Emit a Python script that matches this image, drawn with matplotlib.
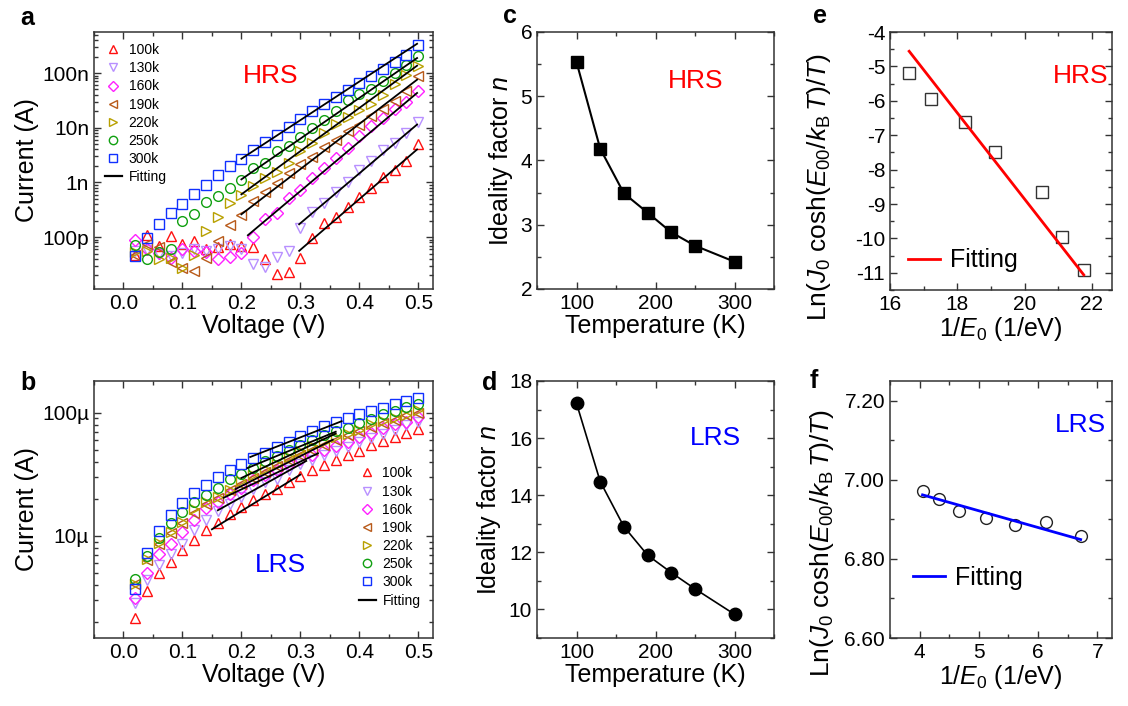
import numpy as np
import matplotlib
matplotlib.use("Agg")
import matplotlib.pyplot as plt
from matplotlib.ticker import FixedLocator, FuncFormatter, MultipleLocator, LogLocator, NullFormatter
from matplotlib.lines import Line2D

plt.rcParams['font.family'] = ['Liberation Sans', 'DejaVu Sans']
plt.rcParams['mathtext.fontset'] = 'custom'
plt.rcParams['mathtext.rm'] = 'Liberation Sans'
plt.rcParams['mathtext.it'] = 'Liberation Sans:italic'
plt.rcParams['axes.unicode_minus'] = False

# ---- data ----
temps = ['100k', '130k', '160k', '190k', '220k', '250k', '300k']
colors = ['#FF1010', '#B890FF', '#FF20FF', '#B85A1A', '#B8A000', '#10A010', '#1030FF']
markers = ['^', 'v', 'D', '<', '>', 'o', 's']

voltage = [0.02, 0.04, 0.06, 0.08, 0.10, 0.12, 0.14, 0.16, 0.18, 0.20, 0.22, 0.24, 0.26,
           0.28, 0.30, 0.32, 0.34, 0.36, 0.38, 0.40, 0.42, 0.44, 0.46, 0.48, 0.50]

# HRS currents, log10(I / A)
hrs_100 = [-10.325, -9.967, -10.161, -9.979, -10.131, -10.070, -10.210, -10.191, -10.131, -10.161,
           -10.191, -10.404, -10.678, -10.647, -10.374, -10.009, -9.736, -9.626, -9.444, -9.267,
           -9.097, -8.897, -8.775, -8.611, -8.307]
hrs_130 = [-10.252, -10.234, -10.313, -10.343, -10.283, -10.222, -10.252, -10.210, -10.161, -10.222,
           -10.495, -10.556, -10.362, -10.252, -9.827, -9.541, -9.371, -9.170, -8.994, -8.781,
           -8.611, -8.416, -8.277, -8.094, -7.900]
hrs_160 = [-10.052, -10.210, -10.295, -10.392, -10.210, -10.252, -10.271, -10.404, -10.362, -10.283,
           -9.991, -9.675, -9.553, -9.280, -9.146, -8.927, -8.745, -8.550, -8.368, -8.155,
           -7.973, -7.821, -7.657, -7.535, -7.334]
hrs_190 = [-10.331, -10.131, -10.191, -10.465, -10.574, -10.629, -10.374, -10.076, -9.778, -9.596,
           -9.347, -9.170, -9.018, -8.824, -8.672, -8.538, -8.356, -8.216, -8.064, -7.942,
           -7.778, -7.650, -7.517, -7.322, -7.061]
hrs_220 = [-10.271, -10.252, -10.404, -10.392, -10.574, -10.331, -9.888, -9.632, -9.371, -9.231,
           -9.067, -8.927, -8.805, -8.641, -8.429, -8.277, -8.094, -7.924, -7.802, -7.669,
           -7.559, -7.407, -7.195, -7.030, -6.866]
hrs_250 = [-10.149, -10.404, -10.271, -10.210, -9.705, -9.571, -9.353, -9.249, -9.097, -8.957,
           -8.733, -8.647, -8.429, -8.337, -8.167, -8.003, -7.851, -7.687, -7.498, -7.383,
           -7.286, -7.140, -7.000, -6.860, -6.696]
hrs_300 = [-10.343, -10.009, -9.754, -9.565, -9.389, -9.219, -9.043, -8.872, -8.708, -8.568,
           -8.404, -8.258, -8.125, -7.979, -7.833, -7.699, -7.571, -7.432, -7.310, -7.188,
           -7.049, -6.921, -6.793, -6.678, -6.483]

# HRS fitting lines: voltage range and log10(I) at both ends
hrs_fit_v0 = [0.298, 0.298, 0.211, 0.200, 0.200, 0.200, 0.200]
hrs_fit_v1 = [0.498, 0.498, 0.498, 0.498, 0.498, 0.498, 0.498]
hrs_fit_i0 = [-10.252, -9.766, -9.967, -9.584, -9.219, -8.945, -8.568]
hrs_fit_i1 = [-8.398, -7.942, -7.365, -7.122, -6.866, -6.726, -6.465]

# LRS currents, log10(I / A)
lrs_100 = [-5.662, -5.446, -5.300, -5.211, -5.116, -5.030, -4.954, -4.895, -4.824, -4.765,
           -4.711, -4.657, -4.616, -4.562, -4.514, -4.462, -4.427, -4.386, -4.346, -4.311,
           -4.265, -4.230, -4.197, -4.162, -4.130]
lrs_130 = [-5.543, -5.354, -5.238, -5.149, -5.062, -4.954, -4.873, -4.800, -4.743, -4.684,
           -4.616, -4.562, -4.535, -4.468, -4.414, -4.381, -4.341, -4.314, -4.278, -4.238,
           -4.203, -4.170, -4.138, -4.103, -4.076]
lrs_160 = [-5.500, -5.297, -5.149, -5.062, -4.968, -4.873, -4.773, -4.724, -4.662, -4.608,
           -4.549, -4.503, -4.462, -4.419, -4.373, -4.341, -4.300, -4.273, -4.238, -4.197,
           -4.162, -4.124, -4.095, -4.076, -4.035]
lrs_190 = [-5.392, -5.197, -5.062, -4.976, -4.895, -4.814, -4.743, -4.689, -4.630, -4.581,
           -4.530, -4.481, -4.435, -4.386, -4.341, -4.305, -4.265, -4.224, -4.184, -4.151,
           -4.116, -4.084, -4.057, -4.022, -4.003]
lrs_220 = [-5.392, -5.184, -5.057, -4.968, -4.886, -4.778, -4.724, -4.684, -4.624, -4.557,
           -4.508, -4.454, -4.414, -4.359, -4.314, -4.273, -4.238, -4.197, -4.170, -4.138,
           -4.089, -4.068, -4.041, -4.016, -3.981]
lrs_250 = [-5.346, -5.165, -5.014, -4.895, -4.805, -4.724, -4.670, -4.608, -4.541, -4.495,
           -4.446, -4.395, -4.351, -4.305, -4.259, -4.219, -4.184, -4.151, -4.122, -4.081,
           -4.049, -4.014, -3.986, -3.954, -3.927]
lrs_300 = [-5.427, -5.135, -4.959, -4.832, -4.732, -4.651, -4.589, -4.522, -4.462, -4.414,
           -4.368, -4.327, -4.278, -4.238, -4.192, -4.149, -4.108, -4.076, -4.043, -4.014,
           -3.986, -3.959, -3.932, -3.905, -3.878]

lrs_fit_v0 = [0.150, 0.160, 0.170, 0.190, 0.200, 0.210, 0.215]
lrs_fit_v1 = [0.300, 0.310, 0.330, 0.355, 0.360, 0.360, 0.370]
lrs_fit_i0 = [-4.946, -4.792, -4.690, -4.620, -4.530, -4.450, -4.360]
lrs_fit_i1 = [-4.503, -4.392, -4.330, -4.220, -4.170, -4.155, -4.070]

# ideality factor
temperature = [100, 130, 160, 190, 220, 250, 300]
n_hrs = [5.533, 4.184, 3.489, 3.188, 2.882, 2.674, 2.425]
n_lrs = [17.22, 14.48, 12.90, 11.90, 11.29, 10.72, 9.83]

# Ln(J0 cosh(E00/kT)/T) vs 1/E0
inv_e0_hrs = [16.57, 17.22, 18.23, 19.12, 20.52, 21.12, 21.76]
ln_hrs = [-5.19, -5.95, -6.63, -7.49, -8.65, -9.96, -10.91]
fit_hrs_x = [16.57, 21.76]
fit_hrs_y = [-4.56, -11.06]

inv_e0_lrs = [4.05, 4.32, 4.66, 5.12, 5.61, 6.14, 6.72]
ln_lrs = [6.971, 6.952, 6.920, 6.903, 6.887, 6.893, 6.858]
fit_lrs_x = [4.05, 6.72]
fit_lrs_y = [6.962, 6.849]

hrs_series = [hrs_100, hrs_130, hrs_160, hrs_190, hrs_220, hrs_250, hrs_300]
lrs_series = [lrs_100, lrs_130, lrs_160, lrs_190, lrs_220, lrs_250, lrs_300]

# ---- figure ----
fig = plt.figure(figsize=(11.28, 7.06), dpi=100)
W, H = 1128, 706


def box(l, r, t, b):
    return [l / W, 1 - b / H, (r - l) / W, (b - t) / H]


ax_a = fig.add_axes(box(94, 433, 32, 289))
ax_b = fig.add_axes(box(94, 433, 381, 638))
ax_c = fig.add_axes(box(537, 774, 32, 289))
ax_d = fig.add_axes(box(537, 774, 381, 638))
ax_e = fig.add_axes(box(890, 1112, 32, 290))
ax_f = fig.add_axes(box(890, 1112, 381, 638))

TICK = 15
LAB = 18


def style(ax):
    ax.tick_params(which='both', direction='in', top=True, right=True, labelsize=TICK,
                   width=1.0, color='#333333')
    ax.tick_params(which='major', length=5)
    ax.tick_params(which='minor', length=3)
    for s in ax.spines.values():
        s.set_linewidth(1.1)
        s.set_color('#333333')


def iv_panel(ax, series, fit_v0, fit_v1, fit_i0, fit_i1):
    for k, ys in enumerate(series):
        ax.plot(voltage, 10 ** np.array(ys), linestyle='none', marker=markers[k],
                markersize=7 if markers[k] != 'D' else 6, markerfacecolor='none',
                markeredgecolor=colors[k], markeredgewidth=1.0, label=temps[k])
    for k in range(len(series)):
        ax.plot([fit_v0[k], fit_v1[k]], [10 ** fit_i0[k], 10 ** fit_i1[k]],
                color='black', lw=1.3)
    ax.set_yscale('log')
    ax.set_xlim(-0.05, 0.525)
    ax.xaxis.set_major_locator(MultipleLocator(0.1))
    ax.xaxis.set_minor_locator(MultipleLocator(0.05))
    ax.xaxis.set_major_formatter(FuncFormatter(lambda v, p: f'{v:.1f}'))
    ax.yaxis.set_minor_locator(LogLocator(base=10, subs=np.arange(2, 10)))
    ax.yaxis.set_minor_formatter(NullFormatter())
    ax.set_xlabel('Voltage (V)', fontsize=LAB, labelpad=1)
    ax.set_ylabel('Current (A)', fontsize=LAB, labelpad=2)
    style(ax)


handles = [Line2D([], [], linestyle='none', marker=markers[k], markerfacecolor='none',
                  markeredgecolor=colors[k], markersize=6 if markers[k] != 'D' else 5)
           for k in range(7)]
handles.append(Line2D([], [], color='black', lw=1.6))

# panel a
iv_panel(ax_a, hrs_series, hrs_fit_v0, hrs_fit_v1, hrs_fit_i0, hrs_fit_i1)
ax_a.set_ylim(10 ** -10.95, 10 ** -6.25)
a_labels = {-10: '100p', -9: '1n', -8: '10n', -7: '100n'}
ax_a.yaxis.set_major_locator(FixedLocator([1e-10, 1e-9, 1e-8, 1e-7]))
ax_a.yaxis.set_major_formatter(FuncFormatter(lambda v, p: a_labels.get(int(round(np.log10(v))), '')))
ax_a.legend(handles, temps + ['Fitting'], loc='upper left', bbox_to_anchor=(0.0, 1.0),
            frameon=False, fontsize=10, handlelength=1.2, handletextpad=0.5,
            labelspacing=0.3, borderaxespad=0.4)
ax_a.text(0.52, 0.83, 'HRS', color='red', fontsize=19, transform=ax_a.transAxes,
          ha='center', va='center')

# panel b
iv_panel(ax_b, lrs_series, lrs_fit_v0, lrs_fit_v1, lrs_fit_i0, lrs_fit_i1)
ax_b.set_ylim(10 ** -5.827, 10 ** -3.744)
b_labels = {-5: '10µ', -4: '100µ'}
ax_b.yaxis.set_major_locator(FixedLocator([1e-5, 1e-4]))
ax_b.yaxis.set_major_formatter(FuncFormatter(lambda v, p: b_labels.get(int(round(np.log10(v))), '')))
ax_b.legend(handles, temps + ['Fitting'], loc='lower right', bbox_to_anchor=(1.0, 0.07),
            frameon=False, fontsize=10, handlelength=1.2, handletextpad=0.5,
            labelspacing=0.3, borderaxespad=0.5)
ax_b.text(0.55, 0.285, 'LRS', color='blue', fontsize=19, transform=ax_b.transAxes,
          ha='center', va='center')

# panel c
ax_c.plot(temperature, n_hrs, color='black', lw=1.5, marker='s', markersize=8)
ax_c.set_xlim(50, 350)
ax_c.set_ylim(2, 6)
ax_c.xaxis.set_major_locator(MultipleLocator(100))
ax_c.xaxis.set_minor_locator(MultipleLocator(50))
ax_c.yaxis.set_major_locator(MultipleLocator(1))
ax_c.yaxis.set_minor_locator(MultipleLocator(0.5))
ax_c.set_xlabel('Temperature (K)', fontsize=LAB, labelpad=1)
ax_c.set_ylabel('Ideality factor $n$', fontsize=LAB, labelpad=4)
ax_c.text(0.67, 0.81, 'HRS', color='red', fontsize=19, transform=ax_c.transAxes,
          ha='center', va='center')
style(ax_c)

# panel d
ax_d.plot(temperature, n_lrs, color='black', lw=1.2, marker='o', markersize=9)
ax_d.set_xlim(50, 350)
ax_d.set_ylim(9, 18)
ax_d.xaxis.set_major_locator(MultipleLocator(100))
ax_d.xaxis.set_minor_locator(MultipleLocator(50))
ax_d.yaxis.set_major_locator(MultipleLocator(2))
ax_d.yaxis.set_minor_locator(MultipleLocator(1))
ax_d.set_xlabel('Temperature (K)', fontsize=LAB, labelpad=1)
ax_d.set_ylabel('Ideality factor $n$', fontsize=LAB, labelpad=4)
ax_d.text(0.755, 0.78, 'LRS', color='blue', fontsize=19, transform=ax_d.transAxes,
          ha='center', va='center')
style(ax_d)

ylab_e = r'Ln($J_0$ cosh($E_{00}$/$k_\mathrm{B}\,T$)/$T$)'

# panel e
ax_e.plot(inv_e0_hrs, ln_hrs, linestyle='none', marker='s', markersize=8,
          markerfacecolor='none', markeredgecolor='#333333', markeredgewidth=1.0)
ax_e.plot(fit_hrs_x, fit_hrs_y, color='red', lw=2, label='Fitting')
ax_e.set_xlim(16, 22.6)
ax_e.set_ylim(-11.5, -4)
ax_e.xaxis.set_major_locator(MultipleLocator(2))
ax_e.xaxis.set_minor_locator(MultipleLocator(1))
ax_e.yaxis.set_major_locator(MultipleLocator(1))
ax_e.yaxis.set_minor_locator(MultipleLocator(0.5))
ax_e.set_xlabel('1/$E_0$ (1/eV)', fontsize=LAB, labelpad=1)
ax_e.set_ylabel(ylab_e, fontsize=19)
ax_e.yaxis.set_label_coords(-0.255, 0.40)
ax_e.legend(loc='lower left', frameon=False, fontsize=18, handlelength=1.3,
            handletextpad=0.4, borderaxespad=0.3)
ax_e.text(0.86, 0.83, 'HRS', color='red', fontsize=19, transform=ax_e.transAxes,
          ha='center', va='center')
style(ax_e)

# panel f
ax_f.plot(inv_e0_lrs, ln_lrs, linestyle='none', marker='o', markersize=8.5,
          markerfacecolor='none', markeredgecolor='#222222', markeredgewidth=1.0)
ax_f.plot(fit_lrs_x, fit_lrs_y, color='blue', lw=2, label='Fitting')
ax_f.set_xlim(3.5, 7.25)
ax_f.set_ylim(6.6, 7.25)
ax_f.xaxis.set_major_locator(MultipleLocator(1))
ax_f.xaxis.set_minor_locator(MultipleLocator(0.5))
ax_f.yaxis.set_major_locator(FixedLocator([6.6, 6.8, 7.0, 7.2]))
ax_f.yaxis.set_minor_locator(FixedLocator([6.7, 6.9, 7.1]))
ax_f.yaxis.set_major_formatter(FuncFormatter(lambda v, p: f'{v:.2f}'))
ax_f.set_xlabel('1/$E_0$ (1/eV)', fontsize=LAB, labelpad=1)
ax_f.set_ylabel(ylab_e, fontsize=19)
ax_f.yaxis.set_label_coords(-0.245, 0.37)
ax_f.legend(loc='lower left', frameon=False, fontsize=18, handlelength=1.3,
            handletextpad=0.4, borderaxespad=0.5, bbox_to_anchor=(0.0, 0.1))
ax_f.text(0.86, 0.83, 'LRS', color='blue', fontsize=19, transform=ax_f.transAxes,
          ha='center', va='center')
style(ax_f)

# panel letters
for lab, x, y in [('a', 20, 18), ('b', 20, 383), ('c', 503, 16), ('d', 482, 383),
                  ('e', 813, 16), ('f', 810, 381)]:
    fig.text(x / W, 1 - y / H, lab, fontsize=18, fontweight='bold', ha='left', va='center')

fig.savefig('out.png', dpi=100)
